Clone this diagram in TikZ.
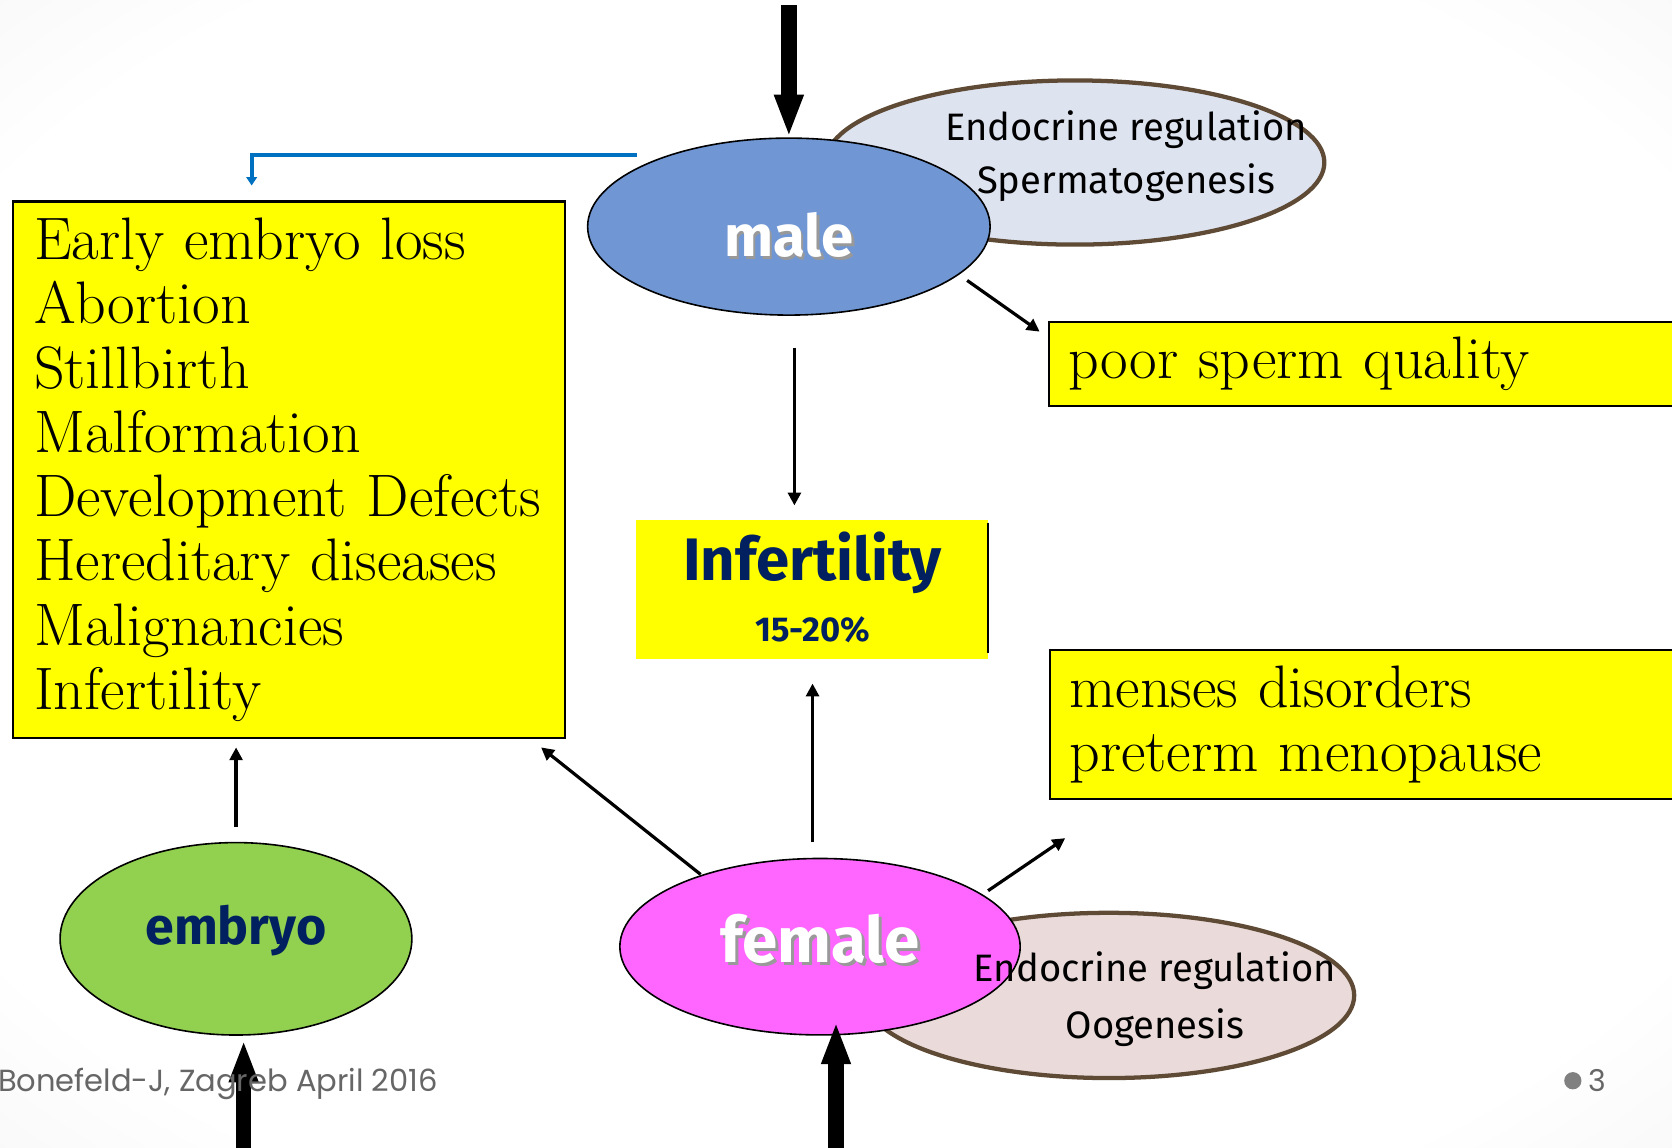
\documentclass[tikz,border=0pt]{standalone}
\usepackage{fontspec}
\newfontfamily\comicfont{Fira Sans}
\newfontfamily\footfont{Poppins}
\usepackage{tikz}
\usetikzlibrary{shapes.geometric}
\usetikzlibrary{arrows.meta}
\definecolor{boxyellow}{RGB}{255,255,0}
\definecolor{malecol}{RGB}{112,151,212}
\definecolor{femalecol}{RGB}{255,102,255}
\definecolor{embryocol}{RGB}{146,208,80}
\definecolor{navy}{RGB}{0,32,96}
\definecolor{linkblue}{RGB}{0,112,192}
\definecolor{rimbrown}{RGB}{94,74,53}
\definecolor{spermfill}{RGB}{222,227,240}
\definecolor{oofill}{RGB}{234,219,218}
\definecolor{footgray}{RGB}{102,102,102}
\pgfdeclareradialshading{slidebg}{\pgfpoint{0bp}{0bp}}{color(0bp)=(white); color(30bp)=(white); color(71bp)=(black!17)}
\newcommand\boxfont{\fontsize{32}{34.3}\selectfont\spaceskip=6.5pt plus 3pt minus 2pt}

\begin{document}
\begin{tikzpicture}[x=0.02cm,y=-0.02cm,
    ybox/.style={fill=boxyellow,draw=black,line width=0.04cm,inner sep=0pt,align=left,font=\boxfont},
    cell/.style={ellipse,draw=black,line width=0.03cm,inner sep=0pt},
    rim/.style={ellipse,draw=rimbrown,line width=0.08cm,inner sep=0pt},
    rimtext/.style={anchor=base,font=\comicfont\fontsize{20.4}{24}\selectfont},
    arr/.style={line width=0.06cm,-{Triangle[width=0.24cm,length=0.24cm]}},
    bigarr/.style={line width=0.29cm,-{Triangle[width=0.5cm,length=0.8cm]}}]
\shade[shading=slidebg] (0,0) rectangle (1568,1076);
\useasboundingbox (0,0) rectangle (1568,1076);
\clip (0,0) rectangle (1568,1076);

\node[rim,fill=spermfill,minimum width=9.36cm,minimum height=3.08cm] (spermreg) at (1008,152.4) {};
\node[rim,fill=oofill,minimum width=9.2cm,minimum height=3.1cm] (oogreg) at (1040,933.5) {};
\node[cell,fill=malecol,minimum width=7.55cm,minimum height=3.32cm] (male) at (739.8,212.5) {};
\node[cell,fill=femalecol,minimum width=7.51cm,minimum height=3.31cm] (female) at (769,887.8) {};
\node[cell,fill=embryocol,minimum width=6.6cm,minimum height=3.61cm] (embryo) at (221.3,880.4) {};

\node[rimtext] (spermline1) at (1056,131.3) {Endocrine regulation};
\node[rimtext] (spermline2) at (1056,181.3) {Spermatogenesis};
\node[rimtext] (ooline1) at (1083,920.6) {Endocrine regulation};
\node[rimtext] (ooline2) at (1083,973.8) {Oogenesis};

\node[anchor=base,font=\comicfont\bfseries\fontsize{31}{36}\selectfont,text=black!40] (maleshade) at (742.3,243.2) {male};
\node[anchor=base,font=\comicfont\bfseries\fontsize{31}{36}\selectfont,text=white] (maleword) at (739.8,240.7) {male};
\node[anchor=base,font=\comicfont\bfseries\fontsize{34}{40}\selectfont,text=black!40] (femaleshade) at (771.5,905.5) {female};
\node[anchor=base,font=\comicfont\bfseries\fontsize{34}{40}\selectfont,text=white] (femaleword) at (769,903) {female};
\node[anchor=base,font=\comicfont\bfseries\fontsize{27.7}{32}\selectfont,text=navy] (embryoword) at (221.3,886) {embryo};

\node[ybox,anchor=north west,minimum width=10.36cm,minimum height=10.06cm,text width=9.56cm,inner xsep=0.4cm] (effects) at (11,188) {Early embryo loss\\Abortion\\Stillbirth\\Malformation\\Development Defects\\Hereditary diseases\\Malignancies\\Infertility};
\node[ybox,anchor=north west,minimum width=12cm,minimum height=1.58cm,text width=11.28cm,inner xsep=0.36cm] (poorsperm) at (983,301) {poor sperm quality};
\node[ybox,anchor=north west,minimum width=12cm,minimum height=2.79cm,text width=11.28cm,inner xsep=0.36cm] (menses) at (984,608.7) {menses disorders\\preterm menopause};

\node[fill=boxyellow,anchor=north west,minimum width=6.59cm,minimum height=2.62cm,inner sep=0pt] (infert) at (596.5,487) {};
\draw[line width=0.03cm,shorten <=0.06cm,shorten >=0.12cm] (infert.north east) -- (infert.south east);
\node[anchor=base,font=\comicfont\bfseries\fontsize{32}{38}\selectfont,text=navy] (infword) at (762,544) {Infertility};
\node[anchor=base,font=\comicfont\bfseries\fontsize{18.4}{22}\selectfont,text=navy] (infpct) at (762,602) {15-20\%};

\coordinate (malein) at (739.8,5);
\coordinate (embryoin) at (228.5,1090);
\coordinate (embryotip) at (228.5,975);
\coordinate (femalein) at (784,1090);
\coordinate (femaletip) at (784,958);
\draw[bigarr] (malein) -- (male.north);
\draw[bigarr] (embryoin) -- (embryotip);
\draw[bigarr] (femalein) -- (femaletip);

\coordinate (mi1) at (745,326);
\coordinate (mi2) at (745,474);
\coordinate (ms1) at (907,263);
\coordinate (ms2) at (975,311);
\coordinate (fi1) at (762,790);
\coordinate (fi2) at (762,641);
\coordinate (fe1) at (657,820);
\coordinate (fe2) at (507.4,700.9);
\coordinate (fm1) at (926.6,835.3);
\coordinate (fm2) at (999,786);
\coordinate (ee1) at (221.4,775.6);
\coordinate (ee2) at (221.4,700.9);
\draw[arr] (mi1) -- (mi2);
\draw[arr] (ms1) -- (ms2);
\draw[arr] (fi1) -- (fi2);
\draw[arr] (fe1) -- (fe2);
\draw[arr] (fm1) -- (fm2);
\draw[arr] (ee1) -- (ee2);

\coordinate (lk1) at (597,145);
\coordinate (lk2) at (236,174);
\draw[linkblue,line width=0.075cm,-{Triangle[width=0.2cm,length=0.16cm]}] (lk1) -| (lk2);

\node[anchor=base west,font=\footfont\fontsize{16.3}{19}\selectfont,text=footgray] (footer) at (-8,1023.8) {Bonefeld-J, Zagreb April 2016};
\node[circle,fill=black!50,minimum size=0.324cm,inner sep=0pt] (pagedot) at (1475,1013.5) {};
\node[anchor=base west,font=\footfont\fontsize{16}{18}\selectfont,text=footgray,inner sep=0pt] (pageno) at (1489,1023.8) {3};
\end{tikzpicture}
\end{document}
